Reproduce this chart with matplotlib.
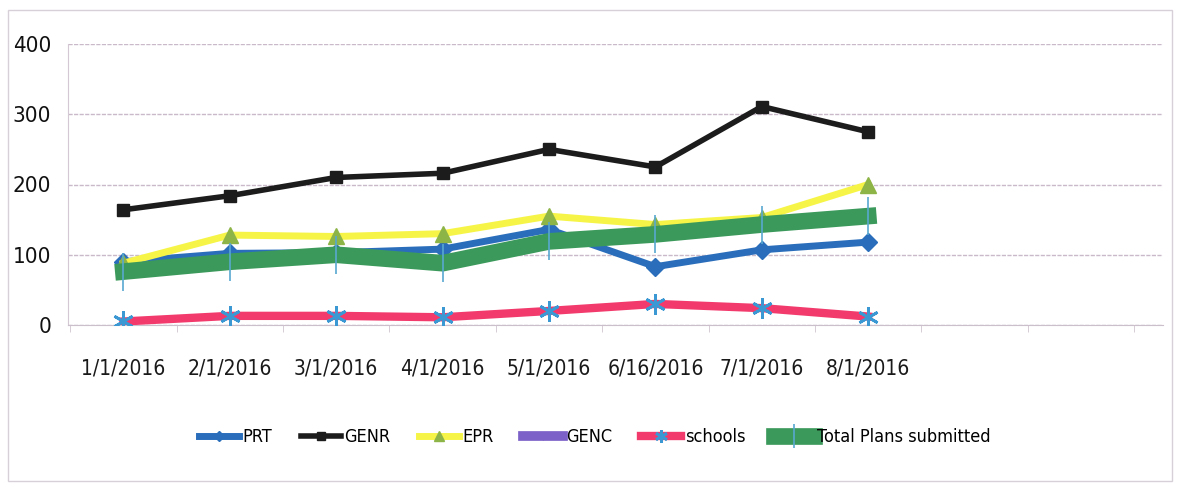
import numpy as np
import matplotlib
matplotlib.use("Agg")
import matplotlib.pyplot as plt

plt.rcParams['font.family'] = ['DejaVu Sans']
plt.rcParams['font.stretch'] = 'condensed'

dates = ["1/1/2016", "2/1/2016", "3/1/2016", "4/1/2016", "5/1/2016",
         "6/16/2016", "7/1/2016", "8/1/2016", "", ""]
prt = [90, 102, 103, 108, 136, 83, 107, 118]
genr = [164, 184, 210, 216, 250, 225, 311, 275]
epr = [88, 128, 126, 130, 155, 143, 153, 200]
genc = [np.nan] * 8
schools = [5, 13, 13, 11, 20, 30, 24, 12]
total = [76, 90, 100, 88, 119, 129, 143, 155]

fig = plt.figure(figsize=(11.79, 4.83), dpi=100)
W, H = 1179, 483
ax = fig.add_axes([68 / W, (H - 325) / H, (1163 - 68) / W, (325 - 44) / H])

x = np.arange(len(prt))
ax.plot(x, prt, color='#2a6ebb', lw=5, marker='D', ms=9, zorder=3, label='PRT')
ax.plot(x, genr, color='#1c1c1c', lw=4, marker='s', ms=9, zorder=3, label='GENR')
ax.plot(x, epr, color='#f6f547', lw=5, marker='^', ms=11, mfc='#8db446', mec='#8db446',
        zorder=3, label='EPR')
ax.plot(x, genc, color='#7c62c8', lw=7, marker='|', ms=10, zorder=3, label='GENC')
ax.plot(x, schools, color='#f23a6c', lw=6, marker=(6, 2, 0), ms=15, mec='#3c98d2',
        mew=2, zorder=3, label='schools')
ax.plot(x, total, color='#3b9a5b', lw=12, marker='|', ms=28, mec='#58a8d0',
        mew=1.2, zorder=4, label='Total Plans submitted')

ax.set_xlim(-0.52, 9.77)
ax.set_ylim(0, 400)
ax.set_yticks([0, 100, 200, 300, 400])
ax.set_xticks(np.arange(len(dates)))
ax.set_xticklabels(dates)
ax.set_xticks(np.arange(len(dates) + 1) - 0.5, minor=True)
ax.tick_params(axis='x', which='major', length=0, pad=24, labelsize=15, labelcolor='#1a1a1a')
ax.tick_params(axis='x', which='minor', length=5, color='#cfc4cf', direction='out')
ax.tick_params(axis='y', length=0, pad=12, labelsize=16, labelcolor='#111111')

ax.grid(axis='y', color='#c9b9c9', lw=1, ls=(0, (3, 1)))
for s in ['top', 'right']:
    ax.spines[s].set_visible(False)
ax.spines['left'].set_color('#d4c8d4')
ax.spines['bottom'].set_color('#cbbfcb')

fig.legend(loc='center', bbox_to_anchor=(595 / W, 1 - 437 / H), ncol=6, frameon=False,
           fontsize=13, handlelength=2.2, handletextpad=0.2, columnspacing=1.6,
           markerscale=0.6)

border = plt.Rectangle((8 / W, 2 / H), (1172 - 8) / W, (473 - 2) / H, transform=fig.transFigure,
                       fill=False, ec='#d8d0d8', lw=1)
fig.add_artist(border)

fig.savefig("out.png", dpi=100)
